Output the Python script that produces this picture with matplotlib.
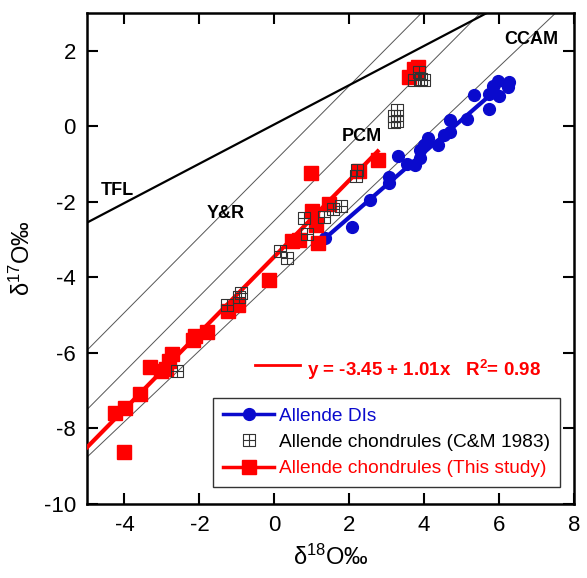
import numpy as np
import matplotlib
matplotlib.use('Agg')
import matplotlib.pyplot as plt
from matplotlib.path import Path

plt.rcParams['font.family'] = ['Liberation Sans', 'DejaVu Sans']
plt.rcParams['mathtext.fontset'] = 'custom'
plt.rcParams['mathtext.rm'] = 'Liberation Sans'
plt.rcParams['mathtext.it'] = 'Liberation Sans:italic'
plt.rcParams['mathtext.bf'] = 'Liberation Sans:bold'
plt.rcParams['axes.unicode_minus'] = False

# ---------------- data ----------------
# Allende DIs
di_x = [1.36, 2.07, 2.56, 3.07, 3.07, 3.31, 3.54, 3.76, 3.90, 3.90, 4.00, 4.11,
        4.36, 4.54, 4.69, 4.69, 5.14, 5.32, 5.74, 5.73, 5.83, 5.98, 6.01, 6.27, 6.25]
di_y = [-2.97, -2.67, -1.95, -1.50, -1.33, -0.79, -1.00, -1.02, -0.85, -0.63, -0.50, -0.32,
        -0.50, -0.24, -0.15, 0.18, 0.20, 0.83, 0.46, 0.86, 1.08, 1.21, 0.79, 1.17, 1.05]

# Allende chondrules (C&M 1983)
cm_x = [-2.60, -1.26, -0.95, -0.90, 0.15, 0.35, 0.80, 0.88, 1.33, 1.58, 1.78,
        2.18, 2.20, 3.20, 3.20, 3.27, 3.28, 3.74, 3.87, 3.92, 4.00]
cm_y = [-6.48, -4.73, -4.52, -4.42, -3.31, -3.48, -2.43, -2.84, -2.40, -2.18, -2.11,
        -1.31, -1.17, 0.12, 0.28, 0.42, 0.14, 1.22, 1.44, 1.26, 1.22]

# Allende chondrules (This study)
st_x = [-4.24, -3.98, -4.00, -3.59, -3.33, -3.02, -2.88, -2.80, -2.73, -2.18, -2.12,
        -1.80, -1.24, -0.98, -0.13, 0.47, 0.66, 1.16, 1.10, 1.00, 1.47, 0.98, 2.27,
        2.76, 3.60, 3.74, 3.83, 3.80]
st_y = [-7.60, -7.45, -8.62, -7.08, -6.36, -6.48, -6.43, -6.22, -6.03, -5.65, -5.55,
        -5.45, -4.89, -4.73, -4.06, -3.03, -3.02, -3.10, -2.60, -2.24, -2.05, -1.23, -1.19,
        -0.90, 1.31, 1.53, 1.56, 1.46]

# reference lines (slope, intercept)
ref_lines = {'TFL': (0.52, 0.05), 'Y&R': (1.00, -0.93), 'PCM': (1.00, -2.50), 'CCAM': (0.94, -4.06)}
ref_labels = {'TFL': (-4.2, -1.71), 'Y&R': (-1.3, -2.30), 'PCM': (2.35, -0.26), 'CCAM': (6.87, 2.31)}

# fits (intercept, slope, x-range)
red_fit = (-3.45, 1.01, (-5.0, 2.76))
blue_fit = (-4.13, 0.86, (1.36, 5.96))

xticks = [-4, -2, 0, 2, 4, 6, 8]
yticks = [-10, -8, -6, -4, -2, 0, 2]

BLUE = '#0A0ACD'
RED = '#FF0000'

# ---------------- figure ----------------
fig = plt.figure(figsize=(5.87, 5.78), dpi=100)
ax = fig.add_axes([87 / 587, (578 - 504) / 578, 487 / 587, 491 / 578])
ax.set_xlim(-5, 8)
ax.set_ylim(-10, 3)

xx = np.array([-6.0, 9.0])
for name, (b, a) in ref_lines.items():
    if name == 'TFL':
        ax.plot(xx, a + b * xx, color='black', lw=1.6, zorder=2)
    else:
        ax.plot(xx, a + b * xx, color='#555555', lw=0.7, zorder=1)
for name, (lx, ly) in ref_labels.items():
    ax.text(lx, ly, name, fontsize=13, fontweight='bold', ha='center', va='center', zorder=5)

# fit lines
a, b, (x0, x1) = red_fit
fx = np.array([x0, x1])
ax.plot(fx, a + b * fx, color=RED, lw=3.0, zorder=3)
a, b, (x0, x1) = blue_fit
fx = np.array([x0, x1])
ax.plot(fx, a + b * fx, color=BLUE, lw=3.0, zorder=3)

# custom boxed-plus marker
verts = [(-1, -1), (1, -1), (1, 1), (-1, 1), (-1, -1),
         (0, -1), (0, 1), (-1, 0), (1, 0)]
codes = [Path.MOVETO, Path.LINETO, Path.LINETO, Path.LINETO, Path.CLOSEPOLY,
         Path.MOVETO, Path.LINETO, Path.MOVETO, Path.LINETO]
boxplus = Path(verts, codes)

ax.plot(di_x, di_y, 'o', color=BLUE, ms=8.5, mec=BLUE, zorder=4)
ax.plot(st_x, st_y, 's', color=RED, ms=9.5, mec=RED, zorder=4)
ax.plot(cm_x, cm_y, linestyle='none', marker=boxplus, ms=8, mfc='none', mec='#333333', mew=0.8, zorder=5)

# legend handles
h1, = ax.plot([], [], '-o', color=BLUE, lw=2.5, ms=8.5)
h2, = ax.plot([], [], linestyle='none', marker=boxplus, ms=8, mfc='none', mec='#333333', mew=0.8)
h3, = ax.plot([], [], '-s', color=RED, lw=2.5, ms=9.5)
leg = ax.legend([h1, h2, h3],
                ['Allende DIs', 'Allende chondrules (C&M 1983)', 'Allende chondrules (This study)'],
                loc='lower right', bbox_to_anchor=(0.971, 0.035), borderaxespad=0,
                fontsize=13.8, handlelength=2.7, handletextpad=0.25, labelspacing=0.45,
                borderpad=0.5, fancybox=False, framealpha=1, edgecolor='#333333')
leg.get_frame().set_linewidth(1.0)
for t, c in zip(leg.get_texts(), [BLUE, 'black', RED]):
    t.set_color(c)

# fit equation annotation
ax.plot([0.345, 0.437], [0.283, 0.283], color=RED, lw=2.0, transform=ax.transAxes)
ax.text(0.451, 0.273, r'y = -3.45 + 1.01x   R$^{\mathbf{2}}$= 0.98', transform=ax.transAxes,
        color=RED, fontsize=13.5, fontweight='bold', ha='left', va='center')

# axes styling
ax.set_xticks(xticks)
ax.set_yticks(yticks)
ax.tick_params(direction='in', length=8, width=1.5, top=True, right=True, labelsize=16, pad=8)
for s in ax.spines.values():
    s.set_linewidth(1.8)
ax.set_xlabel('δ$^{18}$O‰', fontsize=17, labelpad=6)
ax.set_ylabel('δ$^{17}$O‰', fontsize=17, labelpad=6)

fig.savefig('out.png', dpi=100)
